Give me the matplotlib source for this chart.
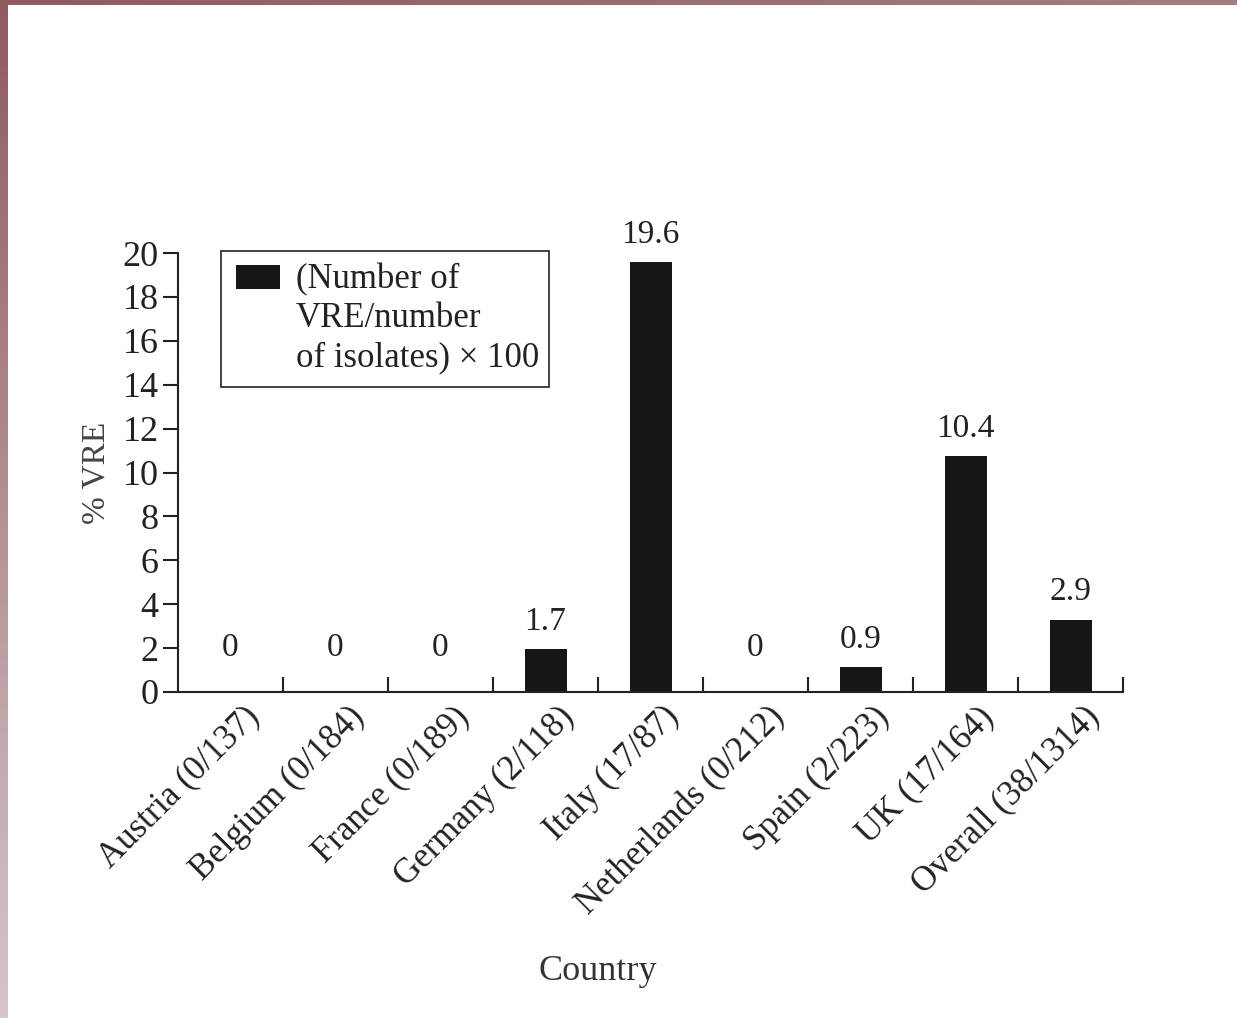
import matplotlib.pyplot as plt
import matplotlib.patches as mpatches
import matplotlib.transforms as mtransforms
import numpy as np

countries = ['Austria (0/137)', 'Belgium (0/184)', 'France (0/189)', 'Germany (2/118)',
             'Italy (17/87)', 'Netherlands (0/212)', 'Spain (2/223)', 'UK (17/164)',
             'Overall (38/1314)']
# bar heights as drawn in the figure
pct_vre = [0, 0, 0, 1.96, 19.6, 0, 1.14, 10.75, 3.3]
# numbers printed above the bars
value_labels = ['0', '0', '0', '1.7', '19.6', '0', '0.9', '10.4', '2.9']
y_ticks = [0, 2, 4, 6, 8, 10, 12, 14, 16, 18, 20]

plt.rcParams['font.family'] = ['Liberation Serif', 'DejaVu Serif']

fig = plt.figure(figsize=(12.37, 10.18), dpi=100)

# maroon gradient edges of the slide
left_strip = fig.add_axes([0, 0, 8 / 1237, 1])
c0 = np.array([143, 90, 96]) / 255
c1 = np.array([214, 198, 202]) / 255
grad = np.linspace(0, 1, 256)[:, None, None]
left_strip.imshow(c0 + (c1 - c0) * grad, aspect='auto')
left_strip.axis('off')
top_strip = fig.add_axes([0, 1 - 5 / 1018, 1, 5 / 1018])
c2 = np.array([162, 126, 131]) / 255
grad2 = np.linspace(0, 1, 256)[None, :, None]
top_strip.imshow(c0 + (c2 - c0) * grad2, aspect='auto')
top_strip.axis('off')

ax = fig.add_axes([178 / 1237, 1 - 692 / 1018, 945 / 1237, 439 / 1018])

x = np.arange(len(countries)) + 0.5
ax.bar(x, pct_vre, width=0.4, color='#161616')

for xi, h, lab in zip(x, pct_vre, value_labels):
    ax.text(xi, max(h + 1.25, 2.0), lab, ha='center', va='center', fontsize=24, color='#222222')

ax.set_xlim(0, len(countries))
ax.set_ylim(0, 20)
ax.set_yticks(y_ticks)
ax.tick_params(axis='y', direction='out', length=11, width=1.5, labelsize=26, pad=3, colors='#222222')

# category boundary ticks pointing up, labels at bar centres
ax.set_xticks(np.arange(1, len(countries) + 1))
ax.set_xticklabels([])
ax.tick_params(axis='x', which='major', direction='in', length=11, width=1.5, colors='#222222')
ax.set_xticks(x, minor=True)
ax.set_xticklabels(countries, minor=True, rotation=45, ha='right', rotation_mode='anchor',
                   fontsize=25, color='#222222')
ax.tick_params(axis='x', which='minor', length=0, pad=6)
shift = mtransforms.ScaledTranslation(0.12, 0, fig.dpi_scale_trans)
for lbl in ax.get_xticklabels(minor=True):
    lbl.set_transform(lbl.get_transform() + shift)

for side in ['top', 'right']:
    ax.spines[side].set_visible(False)
for side in ['left', 'bottom']:
    ax.spines[side].set_linewidth(1.5)
    ax.spines[side].set_color('#222222')

ax.set_ylabel('% VRE', fontsize=24, color='#444444', labelpad=8)
fig.text(598 / 1237, 1 - 972 / 1018, 'Country', ha='center', va='center', fontsize=26, color='#333333')

# legend box drawn by hand
ax.add_patch(mpatches.Rectangle((0.0455, 0.695), 0.347, 0.31, transform=ax.transAxes,
                                fill=False, edgecolor='#222222', linewidth=1.2, clip_on=False))
ax.add_patch(mpatches.Rectangle((0.0614, 0.918), 0.0466, 0.055, transform=ax.transAxes,
                                facecolor='#161616', edgecolor='none', clip_on=False))
ax.text(0.1249, 0.978, '(Number of\nVRE/number\nof isolates) \u00d7 100', transform=ax.transAxes,
        ha='left', va='top', fontsize=25, linespacing=1.25, color='#222222')

fig.savefig('out.png', dpi=100)
